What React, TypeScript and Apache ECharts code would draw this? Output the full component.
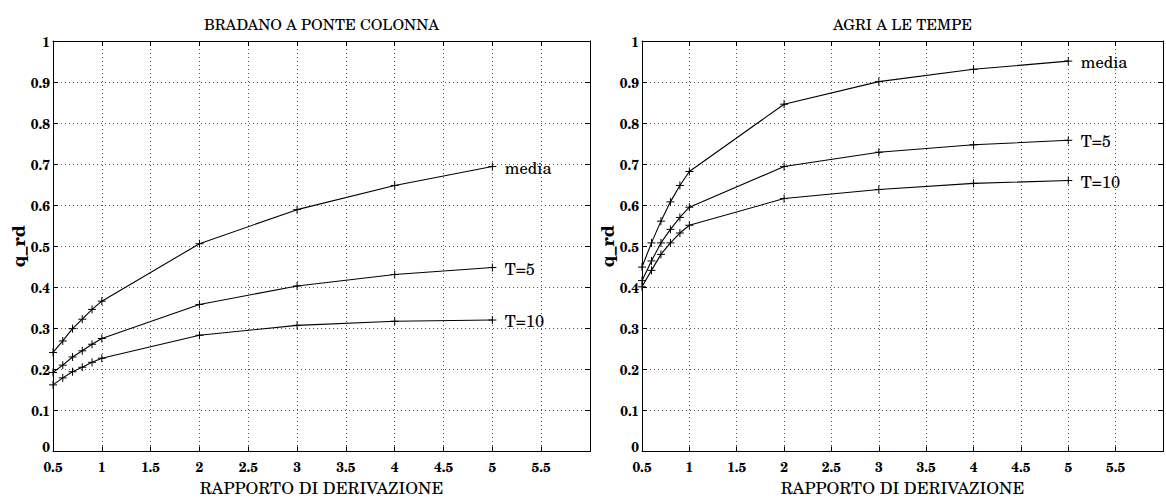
import React, { useEffect, useRef } from "react";
import * as echarts from "echarts";

const X_VALUES = [0.5, 0.6, 0.7, 0.8, 0.9, 1, 2, 3, 4, 5];

const BRADANO_MEDIA = [0.241, 0.269, 0.299, 0.322, 0.346, 0.366, 0.506, 0.589, 0.648, 0.694];
const BRADANO_T5 = [0.192, 0.21, 0.23, 0.245, 0.261, 0.275, 0.358, 0.403, 0.431, 0.448];
const BRADANO_T10 = [0.162, 0.179, 0.194, 0.205, 0.217, 0.227, 0.283, 0.307, 0.317, 0.32];

const AGRI_MEDIA = [0.449, 0.508, 0.561, 0.608, 0.648, 0.682, 0.846, 0.901, 0.931, 0.951];
const AGRI_T5 = [0.416, 0.464, 0.508, 0.541, 0.57, 0.595, 0.694, 0.729, 0.747, 0.758];
const AGRI_T10 = [0.401, 0.441, 0.48, 0.508, 0.532, 0.551, 0.616, 0.638, 0.653, 0.66];

const TITLES = ["BRADANO A PONTE COLONNA", "AGRI A LE TEMPE"];
const X_NAME = "RAPPORTO DI DERIVAZIONE";
const Y_NAME = "q_rd";
const SERIES_NAMES = ["media", "T=5", "T=10"];

const PANELS = [
  [BRADANO_MEDIA, BRADANO_T5, BRADANO_T10],
  [AGRI_MEDIA, AGRI_T5, AGRI_T10],
];

const FONT = "'TeX Gyre Schola', 'DejaVu Serif', serif";
const PLUS = "path://M0,4L8,4M4,0L4,8";

function buildOption() {
  const grids = [
    { left: 53, top: 41, width: 537, height: 422, show: false },
    { left: 642, top: 41, width: 536, height: 422, show: false },
  ];
  const xAxis: any[] = [];
  const yAxis: any[] = [];
  const series: any[] = [];
  const axLine = { show: true, onZero: false, lineStyle: { color: "#000", width: 1 } };
  const tick = { show: true, inside: true, length: 5, lineStyle: { color: "#000", width: 1 } };
  const split = { show: true, lineStyle: { color: "#555", width: 1, type: [1, 3] } };

  grids.forEach((_, g) => {
    xAxis.push({
      type: "value",
      gridIndex: g,
      position: "bottom",
      min: 0.5,
      max: 6,
      interval: 0.5,
      axisLine: axLine,
      axisTick: tick,
      splitLine: split,
      axisLabel: {
        margin: 8,
        color: "#000",
        fontFamily: FONT,
        fontWeight: "bold",
        fontSize: 13.5,
        lineHeight: 13.5,
        formatter: (v: number) => (v >= 6 ? "" : String(v)),
      },
      name: X_NAME,
      nameLocation: "middle",
      nameGap: 22,
      nameTextStyle: { color: "#000", fontFamily: FONT, fontSize: 16.5, lineHeight: 15 },
    });
    xAxis.push({
      type: "value",
      gridIndex: g,
      position: "top",
      min: 0.5,
      max: 6,
      interval: 0.5,
      axisLine: axLine,
      axisTick: tick,
      splitLine: { show: false },
      axisLabel: { show: false },
      name: TITLES[g],
      nameLocation: "middle",
      nameGap: 10,
      nameTextStyle: { color: "#000", fontFamily: FONT, fontSize: 15 },
    });
    yAxis.push({
      type: "value",
      gridIndex: g,
      position: "left",
      min: 0,
      max: 1,
      interval: 0.1,
      axisLine: axLine,
      axisTick: tick,
      splitLine: split,
      axisLabel: {
        margin: 3,
        color: "#000",
        fontFamily: FONT,
        fontWeight: "bold",
        fontSize: 13.5,
        lineHeight: 13,
        formatter: (v: number) => (v === 0 ? "{z|0}" : String(v)),
        rich: {
          z: {
            fontFamily: FONT,
            fontWeight: "bold",
            fontSize: 13.5,
            lineHeight: 13,
            color: "#000",
            padding: [0, 0, 10, 0],
          },
        },
      },
      name: Y_NAME,
      nameLocation: "middle",
      nameGap: 25.5,
      nameTextStyle: { color: "#000", fontFamily: FONT, fontWeight: "bold", fontSize: 18 },
    });
    yAxis.push({
      type: "value",
      gridIndex: g,
      position: "right",
      min: 0,
      max: 1,
      interval: 0.1,
      axisLine: axLine,
      axisTick: tick,
      splitLine: { show: false },
      axisLabel: { show: false },
    });

    PANELS[g].forEach((vals, s) => {
      const data = X_VALUES.map((x, i) => {
        if (i === X_VALUES.length - 1) {
          return {
            value: [x, vals[i]],
            label: {
              show: true,
              position: "right",
              distance: 8,
              formatter: SERIES_NAMES[s],
              color: "#000",
              fontFamily: FONT,
              fontSize: 16.5,
            },
          };
        }
        return [x, vals[i]];
      });
      series.push({
        type: "line",
        name: SERIES_NAMES[s] + " " + g,
        xAxisIndex: g * 2,
        yAxisIndex: g * 2,
        data,
        symbol: PLUS,
        symbolSize: 8,
        showSymbol: true,
        lineStyle: { color: "#000", width: 1.1 },
        itemStyle: { color: "rgba(0,0,0,0)", borderColor: "#000", borderWidth: 1 },
        emphasis: { disabled: true },
        silent: true,
      });
    });
  });

  return {
    animation: false,
    backgroundColor: "#fff",
    grid: grids,
    xAxis,
    yAxis,
    series,
  };
}

export default function App() {
  const ref = useRef<HTMLDivElement>(null);
  useEffect(() => {
    if (!ref.current) return;
    const chart = echarts.init(ref.current, undefined, { renderer: "svg" });
    chart.setOption(buildOption() as any);
    return () => chart.dispose();
  }, []);
  return (
    <div
      ref={ref}
      style={{ position: "fixed", left: 0, top: 0, width: 1166, height: 500, background: "#fff" }}
    />
  );
}
